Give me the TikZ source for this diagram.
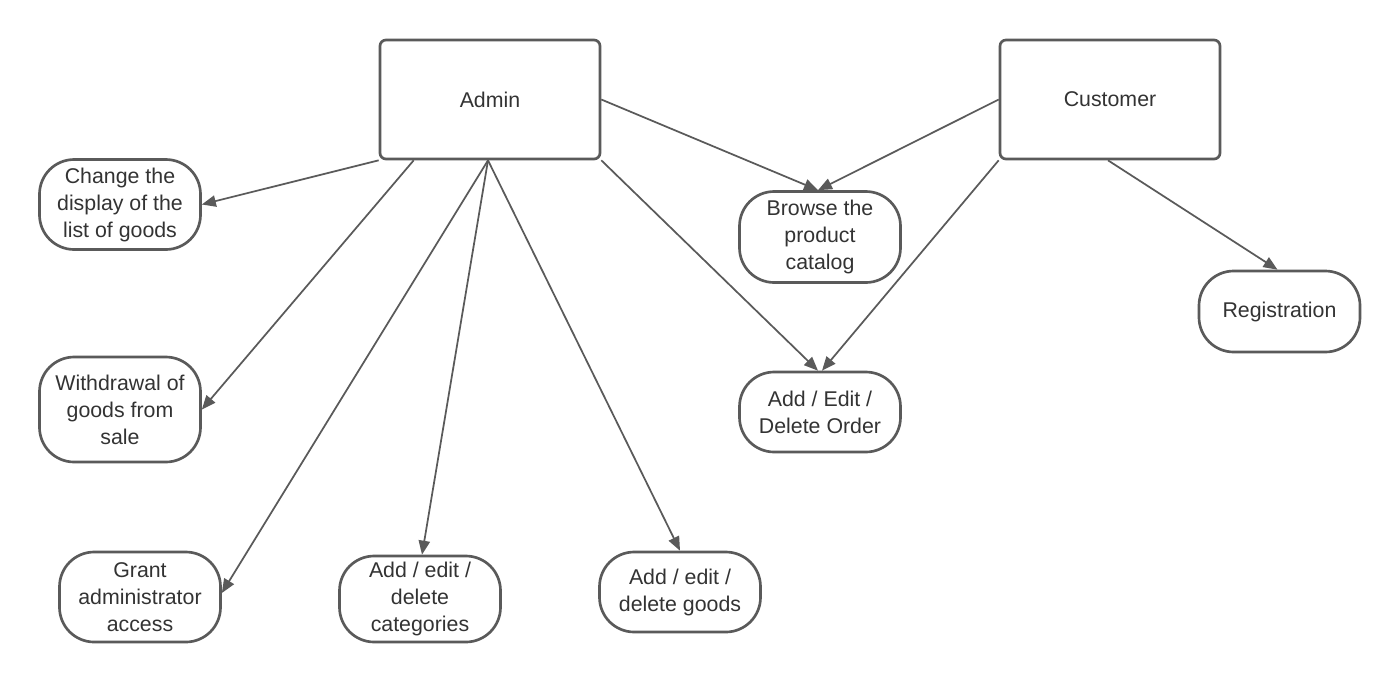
\documentclass[tikz,border=0pt]{standalone}
\usepackage{fontspec}
\setmainfont{Liberation Sans}
\usetikzlibrary{arrows.meta,calc}
\definecolor{linec}{HTML}{5A5A5A}
\definecolor{textc}{HTML}{333333}
\tikzset{
  actor/.style={draw=linec, line width=2pt, rounded corners=4.5pt, fill=white,
    minimum width=220*0.75pt, minimum height=119*0.75pt, inner sep=0pt,
    font=\fontsize{16pt}{20.25pt}\selectfont, text=textc},
  usecase/.style={draw=linec, line width=2pt, rounded corners=26pt, fill=white,
    minimum width=161*0.75pt, inner sep=0pt, align=center,
    font=\fontsize{16pt}{20.25pt}\selectfont, text=textc},
  conn/.style={draw=linec, line width=1.3pt, -{Triangle[length=10.5pt,width=8.5pt]}}
}
\begin{document}
\begin{tikzpicture}[x=0.75pt,y=-0.75pt]
\useasboundingbox[fill=white] (0,0) rectangle (1400,683);
\node[actor] (adm) at (490,99.5) {Admin};
\node[actor] (cust) at (1110,99.5) {Customer};
\node[usecase, minimum height=90*0.75pt] (chg) at (120,204.5) {Change the\\display of the\\list of goods};
\node[usecase, minimum height=105*0.75pt] (wd) at (120,409.5) {Withdrawal of\\goods from\\sale};
\node[usecase, minimum height=90*0.75pt] (gr) at (140,597) {Grant\\administrator\\access};
\node[usecase, minimum height=86*0.75pt] (cat) at (420,599) {Add / edit /\\delete\\categories};
\node[usecase, minimum height=80*0.75pt] (gds) at (680,592) {Add / edit /\\delete goods};
\node[usecase, minimum height=91*0.75pt] (brw) at (820,237) {Browse the\\product\\catalog};
\node[usecase, minimum height=80*0.75pt] (ord) at (820,412) {Add / Edit /\\Delete Order};
\node[usecase, minimum height=81*0.75pt] (reg) at (1279.5,311.5) {Registration};
\draw[conn] (adm.south west) -- (chg.east);
\draw[conn] ($(adm.south west)+(35,0)$) -- (wd.east);
\draw[conn] ($(adm.south)+(-2,0)$) -- ($(gr.east)+(0,-4)$);
\draw[conn] ($(adm.south)+(-2,0)$) -- ($(cat.north)+(2,0)$);
\draw[conn] ($(adm.south)+(-2,0)$) -- (gds.north);
\draw[conn] (adm.east) -- ($(brw.north)+(-2,0)$);
\draw[conn] (adm.south east) -- ($(ord.north)+(-2,0)$);
\draw[conn] (cust.west) -- ($(brw.north)+(-2,0)$);
\draw[conn] (cust.south west) -- ($(ord.north)+(2,0)$);
\draw[conn] ($(cust.south)+(-2,0)$) -- ($(reg.north)+(-2,0)$);
\end{tikzpicture}
\end{document}
